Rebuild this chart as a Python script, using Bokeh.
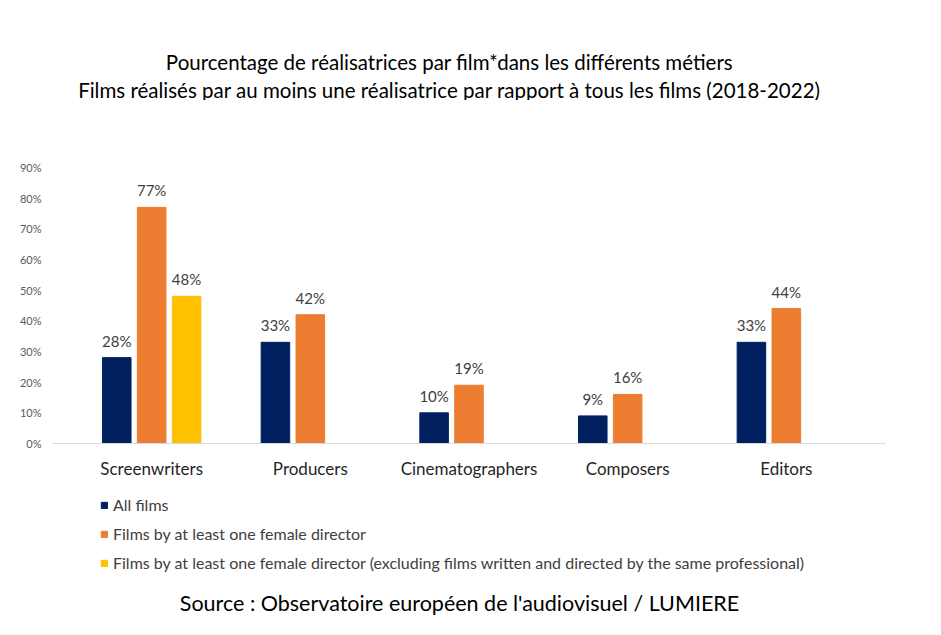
from bokeh.plotting import figure
from bokeh.layouts import column
from bokeh.models import ColumnDataSource, FactorRange, Legend, LegendItem, FixedTicker, CustomJSTickFormatter, Label
from bokeh.transform import dodge
from bokeh.embed import file_html
from bokeh.resources import INLINE

categories = ["Screenwriters", "Producers", "Cinematographers", "Composers", "Editors"]
all_films = [0.28, 0.33, 0.10, 0.09, 0.33]
female_dir = [0.77, 0.42, 0.19, 0.16, 0.44]
excl_cats = ["Screenwriters"]
excl_vals = [0.48]
lab_all = ["28%", "33%", "10%", "9%", "33%"]
lab_fem = ["77%", "42%", "19%", "16%", "44%"]
lab_excl = ["48%"]
series_names = ["All films", "Films by at least one female director",
                "Films by at least one female director (excluding films written and directed by the same professional)"]
colors = ["#002060", "#ED7D31", "#FFC000"]
title_lines = ["Pourcentage de réalisatrices par film*dans les différents métiers",
               "Films réalisés par au moins une réalisatrice par rapport à tous les films (2018-2022)"]
source_text = "Source : Observatoire européen de l'audiovisuel / LUMIERE"

FONT = "Lato"


def blank(h):
    f = figure(width=925, height=h, x_range=(0, 1), y_range=(0, 1), output_backend="svg",
               toolbar_location=None, min_border=0)
    f.axis.visible = False
    f.grid.visible = False
    f.outline_line_color = None
    return f


# title strip
t = blank(100)
for line, y in zip(title_lines, [39, 11]):
    t.add_layout(Label(x=397, y=y, x_units="screen", y_units="screen", text_align="center",
                       text_baseline="middle", text=line, text_font_size="20.5px",
                       text_font=FONT, text_color="#000000"))

# main chart
src = ColumnDataSource(dict(cat=categories, a=all_films, f=female_dir, la=lab_all, lf=lab_fem))
src2 = ColumnDataSource(dict(cat=excl_cats, e=excl_vals, le=lab_excl))

p = figure(x_range=FactorRange(*categories), y_range=(0, 0.9),
           width=925, height=381, output_backend="svg", toolbar_location=None,
           min_border_left=52, min_border_right=40, min_border_top=67, min_border_bottom=36)
p.x_range.range_padding = 0.05

w = 0.18
p.vbar(x=dodge("cat", -0.22, range=p.x_range), top="a", width=w, source=src, color=colors[0])
p.vbar(x=dodge("cat", 0.0, range=p.x_range), top="f", width=w, source=src, color=colors[1])
p.vbar(x=dodge("cat", 0.22, range=p.x_range), top="e", width=w, source=src2, color=colors[2])

for off, col, lab, s in [(-0.22, "a", "la", src), (0.0, "f", "lf", src), (0.22, "e", "le", src2)]:
    p.text(x=dodge("cat", off, range=p.x_range), y=col, text=lab, source=s, y_offset=-8,
           text_align="center", text_baseline="bottom", text_font_size="15px",
           text_color="#404040", text_font={"value": FONT})

p.yaxis.ticker = FixedTicker(ticks=[i / 10 for i in range(10)])
p.yaxis.formatter = CustomJSTickFormatter(code="return Math.round(tick*100) + '%';")
p.yaxis.axis_line_color = None
p.yaxis.major_tick_line_color = None
p.yaxis.minor_tick_line_color = None
p.yaxis.major_label_text_font_size = "11px"
p.yaxis.major_label_text_color = "#595959"
p.yaxis.major_label_text_font = FONT
p.xaxis.axis_line_color = "#D9D9D9"
p.xaxis.major_tick_line_color = None
p.xaxis.major_label_text_font_size = "17px"
p.xaxis.major_label_text_color = "#262626"
p.xaxis.major_label_text_font = FONT
p.xaxis.major_label_standoff = 8
p.xgrid.grid_line_color = None
p.ygrid.grid_line_color = None
p.outline_line_color = None

# legend and source strip
q = blank(138)
rs = [q.vbar(x=[5], top=[0], width=0.1, color=c) for c in colors]  # off-range, legend swatches only
legend = Legend(items=[LegendItem(label=n, renderers=[r]) for n, r in zip(series_names, rs)],
                orientation="vertical", location=(48, 47), glyph_width=8, glyph_height=8,
                label_text_font_size="16px", label_text_font=FONT, label_text_color="#404040",
                spacing=10, border_line_color=None, background_fill_alpha=0, padding=0, margin=0)
q.add_layout(legend)
q.add_layout(Label(x=407, y=17, x_units="screen", y_units="screen", text_align="center",
                   text_baseline="middle", text=source_text,
                   text_font_size="21.5px", text_font=FONT, text_color="#000000"))

open("out.html", "w").write(file_html(column(t, p, q, spacing=0), INLINE))
